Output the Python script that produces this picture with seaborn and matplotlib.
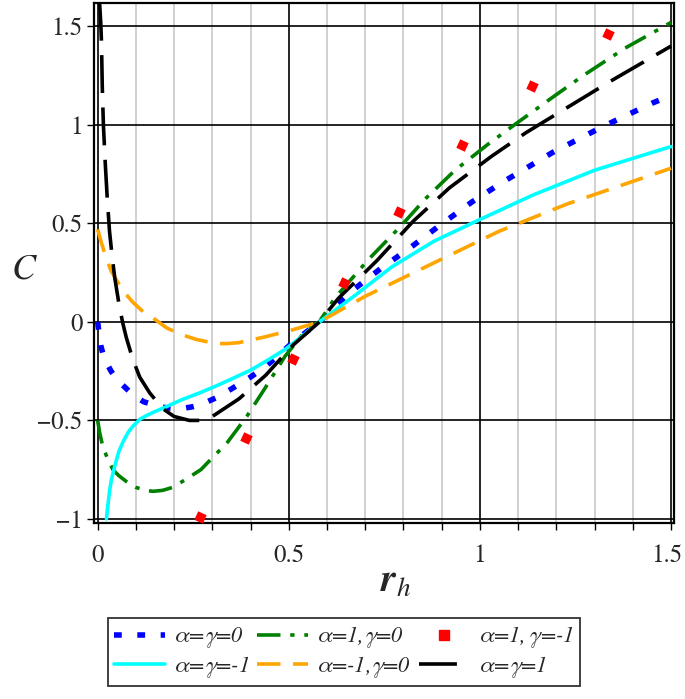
import numpy as np
import pandas as pd
import matplotlib.pyplot as plt
import matplotlib.transforms as mtransforms
from matplotlib.ticker import MultipleLocator, FixedLocator
import seaborn as sns

# curve values
x_a0g0 = [0.0, 0.003, 0.008, 0.015, 0.024, 0.035, 0.05, 0.065, 0.084, 0.1, 0.12, 0.145, 0.17,
          0.2, 0.22, 0.25, 0.27, 0.31, 0.35, 0.40, 0.44, 0.47, 0.51, 0.58, 0.66, 0.74, 0.82,
          0.895, 0.98, 1.06, 1.19, 1.32, 1.45, 1.5]
y_a0g0 = [0.0, -0.05, -0.12, -0.17, -0.21, -0.25, -0.29, -0.32, -0.355, -0.38, -0.405, -0.42, -0.433,
          -0.44, -0.44, -0.43, -0.42, -0.385, -0.34, -0.28, -0.225, -0.175, -0.105, 0.0, 0.15, 0.27, 0.38,
          0.49, 0.61, 0.71, 0.86, 0.99, 1.11, 1.15]

x_a1g0 = [0.0, 0.005, 0.013, 0.025, 0.04, 0.055, 0.075, 0.1, 0.125, 0.145, 0.17, 0.196, 0.23,
          0.27, 0.30, 0.34, 0.39, 0.44, 0.49, 0.55, 0.58, 0.62, 0.71, 0.79, 0.86, 0.935, 1.02,
          1.09, 1.19, 1.27, 1.38, 1.5]
y_a1g0 = [-0.5, -0.56, -0.63, -0.69, -0.75, -0.78, -0.81, -0.84, -0.855, -0.86, -0.855, -0.84, -0.80,
          -0.75, -0.69, -0.61, -0.48, -0.33, -0.175, -0.03, 0.0, 0.12, 0.32, 0.48, 0.63, 0.77, 0.90,
          1.00, 1.14, 1.25, 1.39, 1.52]

x_a1gm1 = [0.267, 0.387, 0.51, 0.644, 0.788, 0.953, 1.136, 1.335]
y_a1gm1 = [-0.99, -0.59, -0.19, 0.20, 0.56, 0.90, 1.20, 1.46]

x_am1gm1 = [0.023, 0.025, 0.028, 0.031, 0.036, 0.045, 0.055, 0.066, 0.08, 0.092, 0.11, 0.128, 0.15,
            0.18, 0.22, 0.267, 0.31, 0.35, 0.40, 0.44, 0.49, 0.53, 0.58, 0.67, 0.77, 0.88, 1.0,
            1.14, 1.30, 1.5]
y_am1gm1 = [-1.0, -0.96, -0.91, -0.86, -0.80, -0.73, -0.66, -0.61, -0.56, -0.53, -0.495, -0.475, -0.455,
            -0.43, -0.395, -0.36, -0.325, -0.29, -0.245, -0.20, -0.14, -0.08, 0.0, 0.13, 0.28, 0.41, 0.52,
            0.645, 0.77, 0.89]

x_am1g0 = [0.0, 0.01, 0.023, 0.035, 0.05, 0.07, 0.092, 0.12, 0.145, 0.18, 0.22, 0.26, 0.31,
           0.34, 0.37, 0.44, 0.51, 0.58, 0.70, 0.88, 1.05, 1.23, 1.5]
y_am1g0 = [0.47, 0.40, 0.32, 0.26, 0.21, 0.15, 0.10, 0.05, 0.02, -0.03, -0.065, -0.09, -0.11,
           -0.11, -0.105, -0.075, -0.04, 0.0, 0.13, 0.30, 0.46, 0.60, 0.78]

x_a1g1 = [0.005, 0.008, 0.01, 0.012, 0.015, 0.02, 0.025, 0.031, 0.038, 0.045, 0.055, 0.065, 0.075,
          0.092, 0.11, 0.136, 0.17, 0.2, 0.24, 0.27, 0.30, 0.37, 0.44, 0.51, 0.58, 0.63, 0.73,
          0.825, 0.92, 1.03, 1.12, 1.23, 1.34, 1.5]
y_a1g1 = [1.62, 1.52, 1.42, 1.2, 1.0, 0.8, 0.63, 0.46, 0.33, 0.22, 0.10, 0.0, -0.08,
          -0.19, -0.28, -0.36, -0.44, -0.48, -0.50, -0.50, -0.48, -0.39, -0.27, -0.12, 0.0, 0.12, 0.31,
          0.51, 0.68, 0.84, 0.96, 1.09, 1.22, 1.40]

labels = [r'$\alpha$=$\gamma$=0', r'$\alpha$=1,$\gamma$=0', r'$\alpha$=1,$\,\gamma$=-1',
          r'$\alpha$=$\gamma$=-1', r'$\alpha$=-1,$\gamma$=0', r'$\alpha$=$\gamma$=1']

sns.set_style('white')
serif = 'TeX Gyre Termes'
plt.rcParams['font.family'] = [serif, 'DejaVu Serif']
plt.rcParams['mathtext.fontset'] = 'custom'
plt.rcParams['mathtext.it'] = serif + ':italic'
plt.rcParams['mathtext.rm'] = serif
plt.rcParams['mathtext.bf'] = serif + ':italic:bold'
plt.rcParams['axes.unicode_minus'] = True

fig = plt.figure(figsize=(6.85, 6.99), dpi=100)
ax = fig.add_axes([0.137, 0.252, 0.847, 0.744])

ax.xaxis.set_minor_locator(MultipleLocator(0.1))
ax.xaxis.set_major_locator(FixedLocator([0, 0.5, 1, 1.5]))
ax.yaxis.set_major_locator(FixedLocator([-1, -0.5, 0, 0.5, 1, 1.5]))
ax.grid(True, which='minor', axis='x', color='#c8c8c8', lw=1.2, zorder=0)
ax.grid(True, which='major', color='black', lw=1.2, zorder=0.5)
ax.set_axisbelow(True)

lw = 2.6
h1 = sns.lineplot(x=x_a0g0, y=y_a0g0, ax=ax, color='#0000ff', lw=4).lines[-1]
h1.set_dashes((1.4, 2.8))
h1.set_dash_capstyle('butt')
h2 = sns.lineplot(x=x_a1g0, y=y_a1g0, ax=ax, color='#008000', lw=lw).lines[-1]
h2.set_dashes((6.5, 2.7, 1.2, 2.7))
h4 = sns.lineplot(x=x_am1gm1, y=y_am1gm1, ax=ax, color='#00ffff', lw=lw).lines[-1]
h5 = sns.lineplot(x=x_am1g0, y=y_am1g0, ax=ax, color='#ffa500', lw=lw).lines[-1]
h5.set_dashes((6.5, 3.5))
h6 = sns.lineplot(x=x_a1g1, y=y_a1g1, ax=ax, color='black', lw=lw).lines[-1]
h6.set_dashes((10.5, 4))
sns.scatterplot(x=x_a1gm1, y=y_a1gm1, ax=ax, color='#ff0000', marker=(4, 0, 20), s=90,
                linewidth=0, zorder=5)
h3 = plt.Line2D([], [], color='#ff0000', marker='s', ls='none', markersize=7)

ax.set_xlim(-0.01, 1.508)
ax.set_ylim(-1.02, 1.62)
ax.set_xticklabels(['0', '0.5', '1', '1.5'])
ax.set_yticklabels(['\u22121', '\u22120.5', '0', '0.5', '1', '1.5'])
ax.tick_params(axis='both', which='major', labelsize=18, length=5, width=1, color='black',
               direction='out', left=True, bottom=True)
ax.tick_params(axis='x', which='minor', length=5, width=1, color='black', direction='out', bottom=True)
ax.tick_params(axis='x', pad=10)
ax.tick_params(axis='y', pad=3)
# keep the last x label inside the canvas
last = ax.get_xticklabels()[-1]
last.set_transform(last.get_transform() + mtransforms.ScaledTranslation(-4 / 100, 0, fig.dpi_scale_trans))
for s in ax.spines.values():
    s.set_color('black')
    s.set_linewidth(1.6)
ax.set_xlabel('')
ax.set_ylabel('')

fig.text(0.035, 0.615, 'C', fontsize=26, style='italic', ha='center', va='center')
fig.text(0.578, 0.166, r'$\mathbf{r}_{\mathit{h}}$', fontsize=28, ha='center', va='center')

handles = [h1, h4, h2, h5, h3, h6]
hl = [labels[0], labels[3], labels[1], labels[4], labels[2], labels[5]]
leg = fig.legend(handles, hl, loc='lower center', bbox_to_anchor=(0.502, 0.002), ncol=3,
                 frameon=True, fancybox=False, edgecolor='black',
                 handlelength=2.3, handletextpad=0.35, columnspacing=0.35, borderpad=0.3,
                 labelspacing=0.15, prop={'family': serif, 'style': 'italic', 'size': 16})
leg.get_frame().set_linewidth(1.3)

fig.savefig('out.png', dpi=100)
